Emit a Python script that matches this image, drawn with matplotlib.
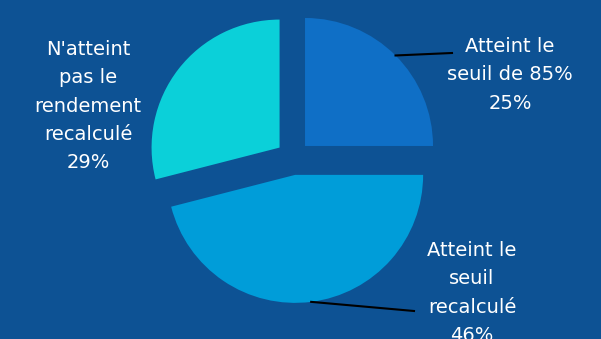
import numpy as np
import matplotlib
matplotlib.use("Agg")
import matplotlib.pyplot as plt

labels = ["Atteint le\nseuil de 85%", "Atteint le\nseuil\nrecalculé", "N'atteint\npas le\nrendement\nrecalculé"]
shares = [25, 46, 29]
colors = ["#0F6FC6", "#009DD9", "#0BD0D9"]
bg = "#0D5294"

W, H = 601, 339
fig = plt.figure(figsize=(W / 100, H / 100), dpi=100, facecolor=bg)
ax = fig.add_axes([0, 0, 1, 1])
ax.set_facecolor(bg)

# pie laid out in pixel space (y up); explode is in data units here
cx, cy, r = 293, H - 158, 128
wedges, _ = ax.pie(shares, colors=colors, startangle=90, counterclock=False,
                   explode=[17] * 3, radius=r, center=(cx, cy), frame=True,
                   wedgeprops=dict(linewidth=0))
ax.set_xlim(0, W)
ax.set_ylim(0, H)
ax.set_aspect("equal")
ax.axis("off")

text_kw = dict(color="white", fontsize=14, ha="center", va="center",
               linespacing=1.62, family=["DejaVu Sans"])

# label anchors (pixels, y up) and leader line end points
label_pos = [(510, H - 75), (472, H - 293), (88, H - 106)]
leader_end = [(452, H - 53), (414, H - 311), None]

for w, lab, pct, pos, end in zip(wedges, labels, shares, label_pos, leader_end):
    ax.text(pos[0], pos[1], f"{lab}\n{pct}%", **text_kw)
    if end is not None:
        mid = np.deg2rad((w.theta1 + w.theta2) / 2)
        x0 = w.center[0] + w.r * np.cos(mid)
        y0 = w.center[1] + w.r * np.sin(mid)
        ax.plot([x0, end[0]], [y0, end[1]], color="black", linewidth=1.5)

fig.savefig("out.png", dpi=100, facecolor=bg)
